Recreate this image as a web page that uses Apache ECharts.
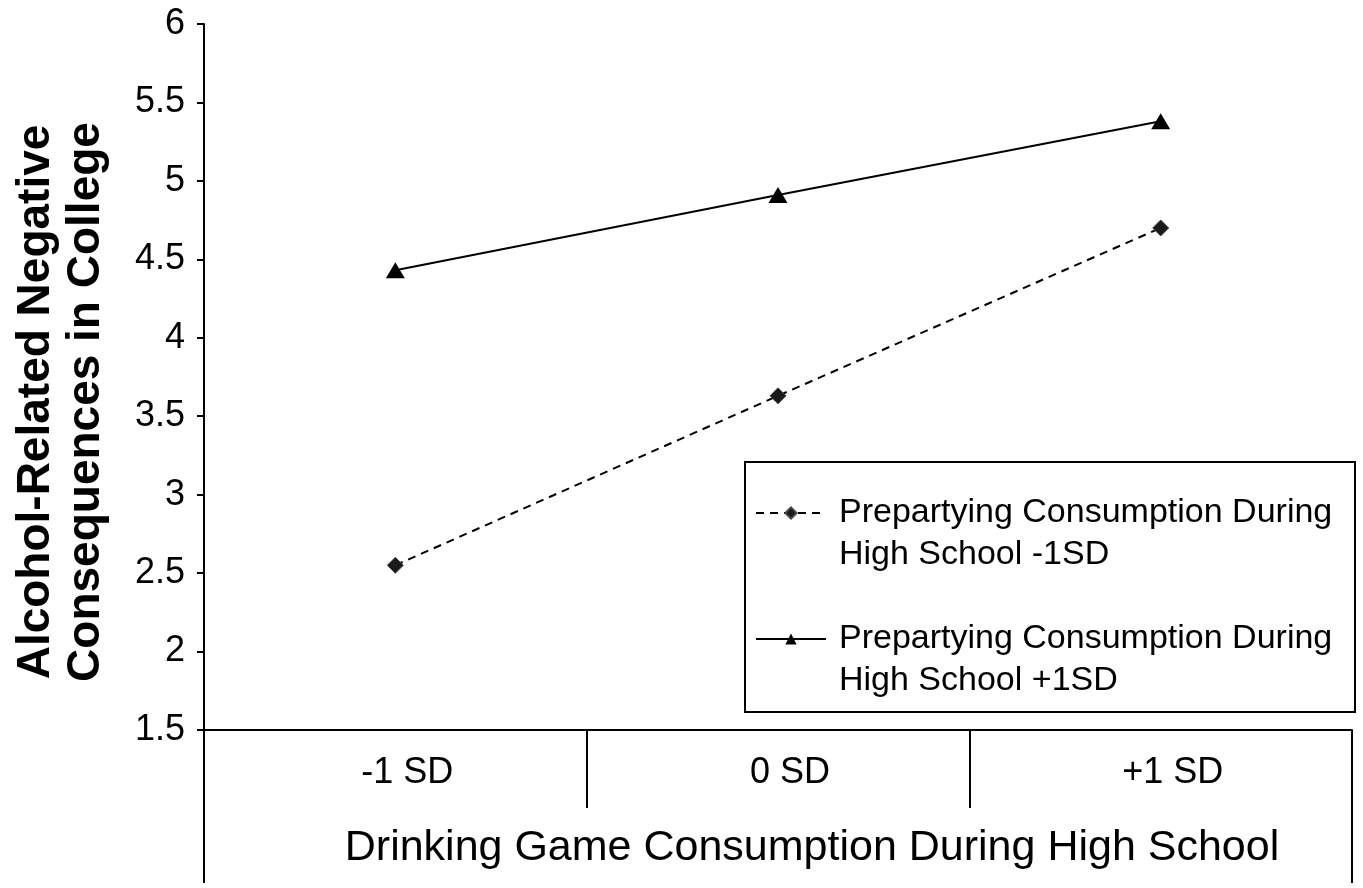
<!DOCTYPE html>
<html><head><meta charset="utf-8">
<script src="https://cdn.jsdelivr.net/npm/echarts@6/dist/echarts.min.js"></script>
<style>html,body{margin:0;padding:0;background:#fff}#c{width:1363px;height:888px}</style>
</head><body><div id="c"></div>
<script>
const categories = ['-1 SD', '0 SD', '+1 SD'];
const outerCategory = ['Drinking Game Consumption During High School'];
const lowName = 'Prepartying Consumption During\nHigh School -1SD';
const highName = 'Prepartying Consumption During\nHigh School +1SD';
const lowValues = [2.55, 3.63, 4.70];
const highValues = [4.43, 4.91, 5.38];
const yTitle = 'Alcohol-Related Negative\nConsequences in College';

const FONT = 'Liberation Sans, Arial, Helvetica, sans-serif';
const chart = echarts.init(document.getElementById('c'), null, {renderer: 'canvas'});
chart.setOption({
  animation: false,
  backgroundColor: '#fff',
  textStyle: {fontFamily: FONT, color: '#000'},
  grid: {left: 204, right: 11, top: 24, bottom: 158, containLabel: false},
  xAxis: [{
    type: 'category', data: categories, boundaryGap: true, position: 'bottom',
    axisLine: {show: true, lineStyle: {color: '#000', width: 2}},
    axisTick: {show: true, length: 78, lineStyle: {color: '#000', width: 2}},
    axisLabel: {fontSize: 36, color: '#000', fontFamily: FONT, margin: 23, lineHeight: 40, padding: [0, 0, 0, 24]},
    splitLine: {show: false}
  }, {
    type: 'category', data: outerCategory, boundaryGap: true, position: 'bottom', offset: 0,
    axisLine: {show: false},
    axisTick: {show: true, length: 153, lineStyle: {color: '#000', width: 2}},
    axisLabel: {fontSize: 43, color: '#000', fontFamily: FONT, margin: 94, lineHeight: 48, padding: [0, 0, 0, 68]},
    splitLine: {show: false}
  }],
  yAxis: {
    type: 'value', min: 1.5, max: 6, interval: 0.5,
    axisLine: {show: true, lineStyle: {color: '#000', width: 2}},
    axisTick: {show: true, length: 7, lineStyle: {color: '#000', width: 2}},
    axisLabel: {fontSize: 36, color: '#000', fontFamily: FONT, margin: 19},
    splitLine: {show: false},
    name: yTitle, nameLocation: 'middle', nameRotate: 90, nameGap: 93,
    nameTextStyle: {fontSize: 46, fontWeight: 'bold', color: '#000', fontFamily: FONT, lineHeight: 50, padding: [0, 50, 0, 0]}
  },
  legend: {
    orient: 'vertical', left: 755, top: 450, padding: 0, itemGap: 0,
    itemWidth: 70, itemHeight: 14,
    formatter: function (name) { return '\n' + name; },
    textStyle: {fontSize: 34, color: '#000', fontFamily: FONT, lineHeight: 42, padding: [0, 0, 0, 8]},
    data: [lowName, highName]
  },
  graphic: [{
    type: 'rect', left: 744, top: 461, z: 0,
    shape: {width: 610, height: 250},
    style: {fill: '#fff', stroke: '#000', lineWidth: 2}
  }],
  series: [{
    name: lowName, type: 'line', data: lowValues,
    symbol: 'diamond', symbolSize: 16, z: 3,
    lineStyle: {color: '#000', width: 2, type: [8, 6]},
    itemStyle: {color: '#1a1a1a', borderColor: '#444', borderWidth: 1}
  }, {
    name: highName, type: 'line', data: highValues,
    symbol: 'triangle', symbolSize: [19, 16], z: 3,
    lineStyle: {color: '#000', width: 2, type: 'solid'},
    itemStyle: {color: '#000'}
  }]
});
</script>
</body></html>
